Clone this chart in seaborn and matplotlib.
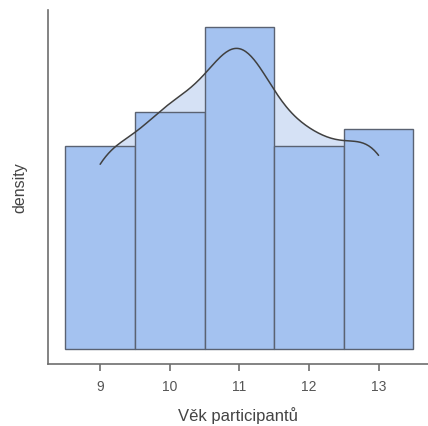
import numpy as np
import matplotlib
matplotlib.use("Agg")
import matplotlib.pyplot as plt
import seaborn as sns

# Age of participants and number of participants per age
ages = [9, 10, 11, 12, 13]
counts = [12, 14, 19, 12, 13]
tick_labels = ["9", "10", "11", "12", "13"]

values = np.repeat(ages, counts)

sns.set_theme(style="white")
plt.rcParams["font.family"] = ["Liberation Sans", "DejaVu Sans"]

fig = plt.figure(figsize=(4.28, 4.27), dpi=100)
ax = fig.add_axes([0.112, 0.145, 0.888, 0.829])

bar_color = "#a4c2f0"
fill_color = "#d5e1f5"
edge_color = "#5a6272"
# Silverman-style rule of thumb bandwidth factor
bw = 0.9 * len(values) ** -0.2

# density area behind the bars
sns.kdeplot(x=values, cut=0, bw_method=bw, fill=True, color=fill_color,
            alpha=1.0, linewidth=0, ax=ax, zorder=1)
# histogram
sns.histplot(x=values, stat="density", discrete=True, color=bar_color,
             alpha=1.0, edgecolor=edge_color, linewidth=1.0, ax=ax, zorder=2)
# density curve on top
sns.kdeplot(x=values, cut=0, bw_method=bw, color="#404040", linewidth=1.1,
            ax=ax, zorder=3)

ax.set_xlim(8.25, 13.71)
ax.set_ylim(-0.0127, 0.2858)
ax.set_xticks(ages)
ax.set_xticklabels(tick_labels)
ax.set_yticks([])

for side in ["top", "right"]:
    ax.spines[side].set_visible(False)
for side in ["left", "bottom"]:
    ax.spines[side].set_color("#6e6e6e")
    ax.spines[side].set_linewidth(1.2)

ax.tick_params(axis="x", bottom=True, length=5, width=1.2, color="#6e6e6e",
               labelsize=10, labelcolor="#555555", pad=6)
ax.set_xlabel("Věk participantů", fontsize=12, color="#444444", labelpad=9)
ax.set_ylabel("density", fontsize=11.5, color="#444444", labelpad=15)

fig.savefig("out.png", dpi=100)
